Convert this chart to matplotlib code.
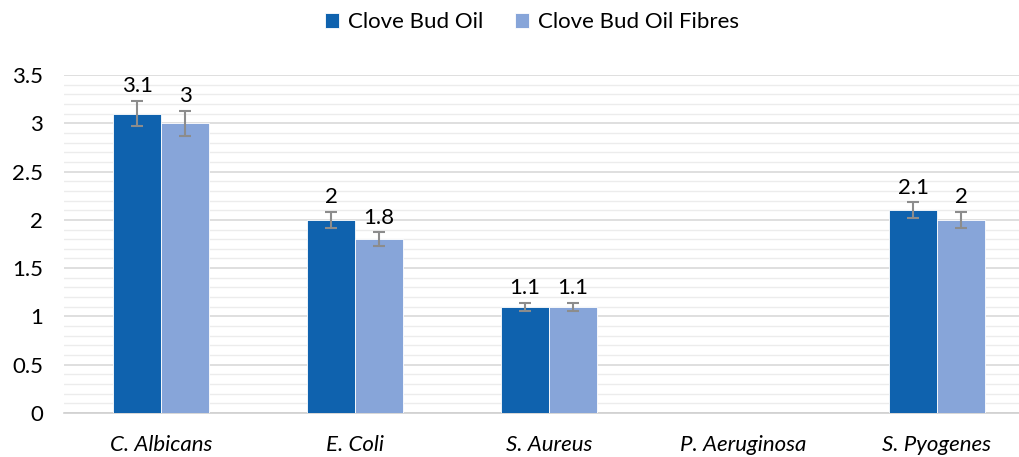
import numpy as np
import matplotlib
matplotlib.use("Agg")
from matplotlib import pyplot as plt

categories = ["C. Albicans", "E. Coli", "S. Aureus", "P. Aeruginosa", "S. Pyogenes"]
oil = [3.1, 2.0, 1.1, 0, 2.1]
fibres = [3.0, 1.8, 1.1, 0, 2.0]
oil_err = [0.13, 0.08, 0.04, 0, 0.08]
fibres_err = [0.13, 0.07, 0.04, 0, 0.08]
oil_labels = ["3.1", "2", "1.1", "", "2.1"]
fibres_labels = ["3", "1.8", "1.1", "", "2"]

plt.rcParams['font.family'] = ['Lato', 'DejaVu Sans']
fs = 16

fig = plt.figure(figsize=(10.19, 4.57), dpi=100)
ax = fig.add_axes([64 / 1019, 1 - 413 / 457, 970 / 1019, 338 / 457])

x = np.arange(len(categories))
w = 0.247
c1 = "#0f62ae"
c2 = "#87a5d9"
b1 = ax.bar(x - w / 2, oil, w, color=c1, edgecolor="white", linewidth=0.6, zorder=3)
b2 = ax.bar(x + w / 2, fibres, w, color=c2, edgecolor="white", linewidth=0.6, zorder=3)

has = [v > 0 for v in oil]
xo = [xi - w / 2 for xi, h in zip(x, has) if h]
xf = [xi + w / 2 for xi, h in zip(x, has) if h]
ax.errorbar(xo, [v for v, h in zip(oil, has) if h], yerr=[e for e, h in zip(oil_err, has) if h],
            fmt="none", ecolor="#8c8c8c", elinewidth=1.5, capsize=4, capthick=1.5, zorder=4)
ax.errorbar(xf, [v for v, h in zip(fibres, has) if h], yerr=[e for e, h in zip(fibres_err, has) if h],
            fmt="none", ecolor="#8c8c8c", elinewidth=1.5, capsize=4, capthick=1.5, zorder=4)

for xi, v, e, lab in zip(x, oil, oil_err, oil_labels):
    if lab:
        ax.text(xi - w / 2, v + e + 0.05, lab, ha="center", va="bottom", fontsize=fs)
for xi, v, e, lab in zip(x, fibres, fibres_err, fibres_labels):
    if lab:
        ax.text(xi + w / 2, v + e + 0.05, lab, ha="center", va="bottom", fontsize=fs)

ax.set_xlim(-0.5, 4.5)
ax.set_ylim(0, 3.5)
ax.set_yticks(np.arange(0, 3.51, 0.5))
ax.set_yticklabels(["0", "0.5", "1", "1.5", "2", "2.5", "3", "3.5"], fontsize=fs)
ax.set_yticks(np.arange(0, 3.51, 0.1), minor=True)
ax.set_xticks(x)
ax.set_xticklabels(categories, fontsize=fs, style="italic")
ax.tick_params(axis="both", length=0, which="both")
ax.tick_params(axis="x", pad=16)
ax.tick_params(axis="y", pad=15)
ax.grid(axis="y", which="major", color="#d9d9d9", linewidth=1.2, zorder=0)
ax.grid(axis="y", which="minor", color="#ececec", linewidth=1.0, zorder=0)
for s in ["top", "right", "left"]:
    ax.spines[s].set_visible(False)
ax.spines["bottom"].set_color("#d0d0d0")
ax.spines["bottom"].set_linewidth(1.2)

fig.legend([b1, b2], ["Clove Bud Oil", "Clove Bud Oil Fibres"], loc="center",
           bbox_to_anchor=(532 / 1019, 1 - 22 / 457), ncol=2, frameon=False, fontsize=fs,
           handlelength=0.65, handleheight=0.65, columnspacing=1.4, handletextpad=0.4)

fig.savefig("out.png", dpi=100)
